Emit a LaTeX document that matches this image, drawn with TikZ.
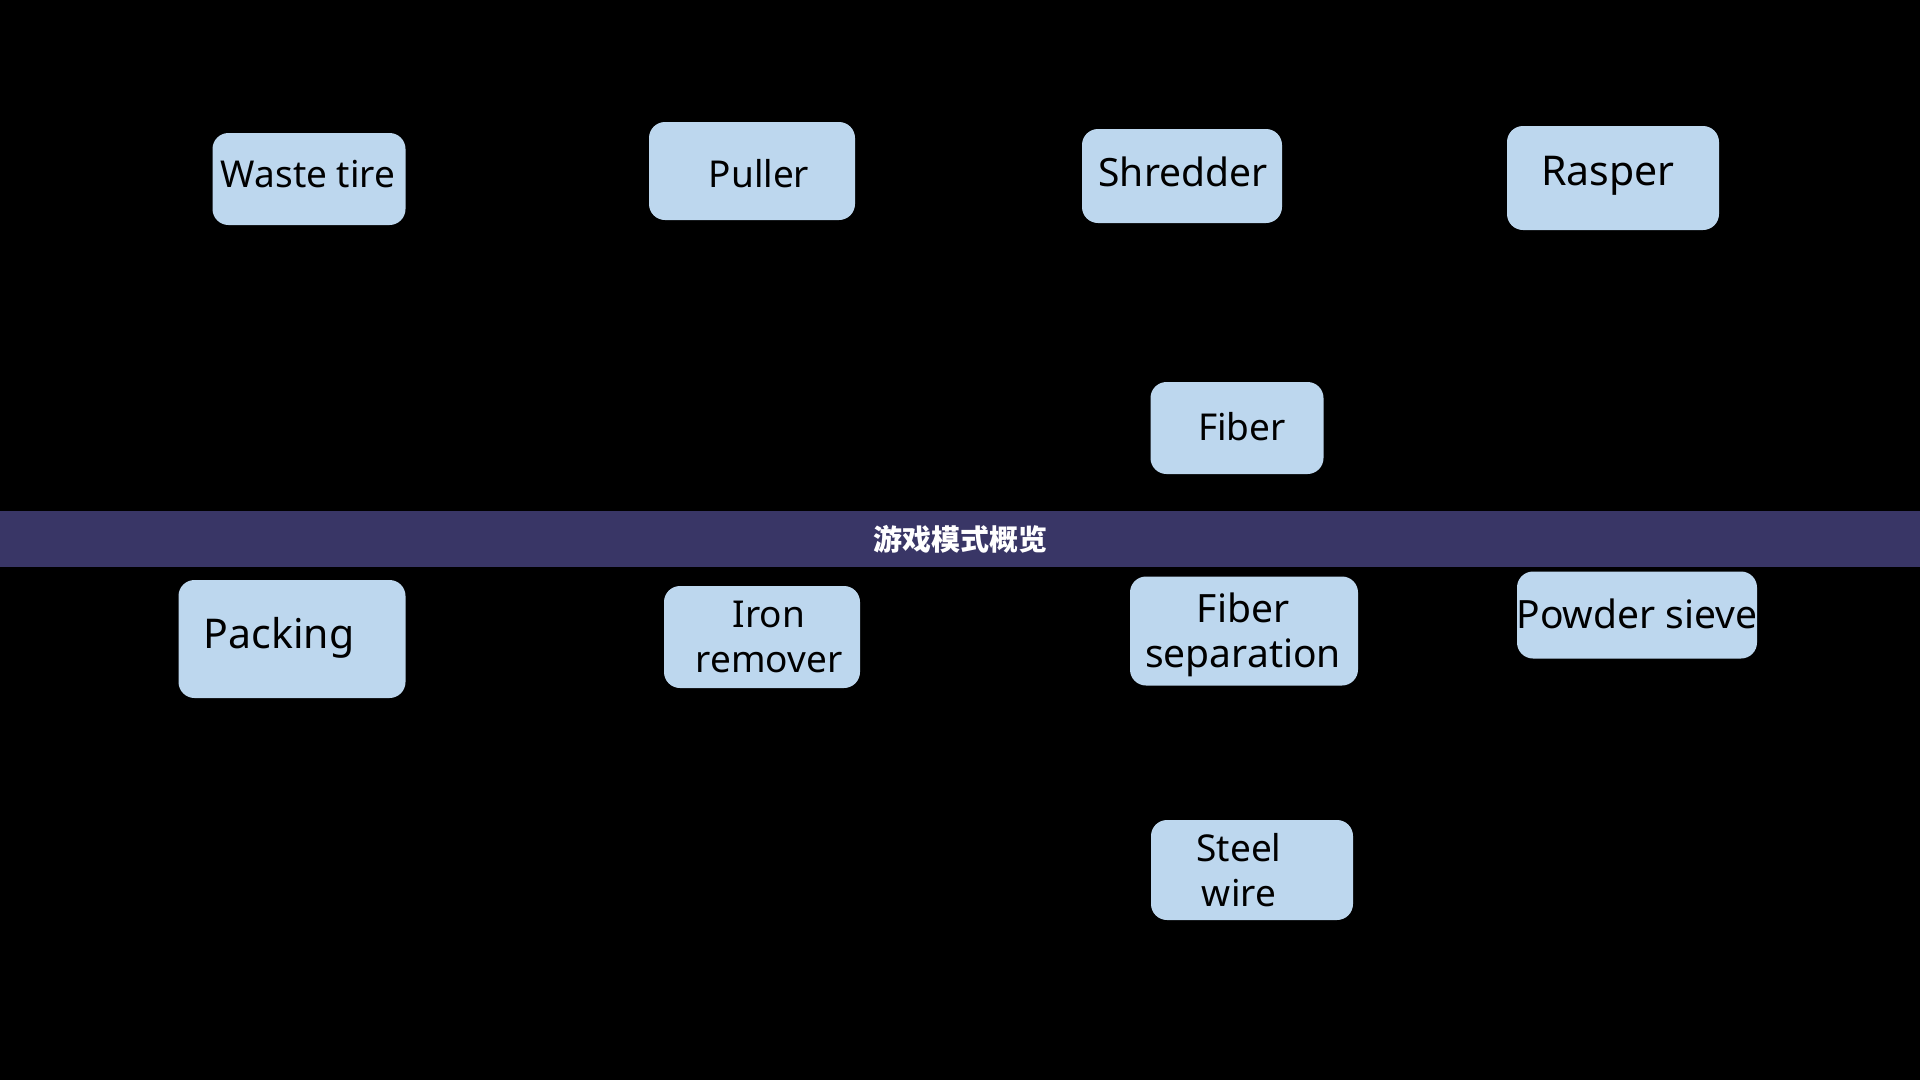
\documentclass[tikz,border=0pt]{standalone}
\usepackage{fontspec}
\setmainfont{Noto Sans}
\newfontfamily\cjkfont{Noto Sans CJK SC}
\usepackage{tikz}
\usetikzlibrary{positioning}
\definecolor{boxblue}{HTML}{BDD7EE}
\definecolor{bandpurple}{HTML}{393666}
\begin{document}
\begin{tikzpicture}[x=1pt, y=-1pt,
    stage/.style={fill=boxblue, rounded corners=16pt, inner sep=0pt},
    stagetext/.style={font=\fontsize{37}{45}\selectfont, align=center, text=black, inner sep=0pt},
    bigtext/.style={stagetext, font=\fontsize{41}{45}\selectfont},
    midtext/.style={stagetext, font=\fontsize{39}{45}\selectfont},
    band/.style={fill=bandpurple, inner sep=0pt, minimum width=1920pt, minimum height=56pt},
    bandtext/.style={font=\cjkfont\bfseries\fontsize{29}{30}\selectfont, text=white, inner sep=0pt}
]
% Hintergrund
\fill[black] (0,0) rectangle (1920,1080);
\useasboundingbox (0,0) rectangle (1920,1080);

% obere Reihe
\node[stage, minimum width=193pt, minimum height=92pt] (waste) at (309,179) {};
\node[stage, minimum width=206pt, minimum height=98pt] (puller) at (752,171) {};
\node[stage, minimum width=200pt, minimum height=94pt] (shredder) at (1182,176) {};
\node[stage, minimum width=212pt, minimum height=104pt] (rasper) at (1613,178) {};
\node[stage, minimum width=173pt, minimum height=92pt] (fiber) at (1237,428) {};

% Band
\node[band] (band) at (960,539) {};
\node[bandtext] (bandlabel) at (band) {游戏模式概览};

% untere Reihe
\node[stage, minimum width=227pt, minimum height=118pt] (packing) at (292,639) {};
\node[stage, minimum width=196pt, minimum height=102pt] (iron) at (762,637) {};
\node[stage, minimum width=228pt, minimum height=109pt] (fibsep) at (1244,631) {};
\node[stage, minimum width=240pt, minimum height=87pt] (powder) at (1637,615) {};
\node[stage, minimum width=202pt, minimum height=100pt] (steel) at (1252,870) {};

% Beschriftungen
\node[stagetext] (waste-t) at (308,174) {Waste tire};
\node[stagetext] (puller-t) at (759,174) {Puller};
\node[midtext] (shredder-t) at (1183,172) {Shredder};
\node[bigtext] (rasper-t) at (1608,176) {Rasper};
\node[stagetext] (fiber-t) at (1242,427) {Fiber};
\node[bigtext] (packing-t) at (279,638) {Packing};
\node[stagetext] (iron-t) at (769,637) {Iron\\remover};
\node[midtext] (fibsep-t) at (1243,635) {Fiber\\separation};
\node[midtext] (powder-t) at (1637,614) {Powder sieve};
\node[stagetext] (steel-t) at (1239,870) {Steel\\wire};

\end{tikzpicture}
\end{document}
